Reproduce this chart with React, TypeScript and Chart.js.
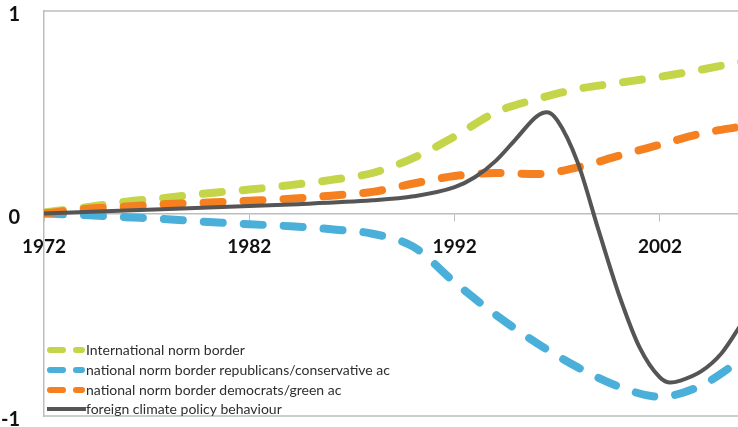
import React, { useEffect, useRef } from "react";
import { Chart, registerables } from "chart.js";

Chart.register(...registerables);

const years = [1972, 1974, 1976, 1978, 1980, 1982, 1984, 1986, 1988, 1990, 1992, 1994, 1996, 1998, 2000, 2002, 2004, 2006];
const internationalNorm = [0.005, 0.03, 0.058, 0.078, 0.1, 0.118, 0.14, 0.166, 0.2, 0.275, 0.38, 0.5, 0.565, 0.615, 0.645, 0.675, 0.71, 0.75];
const republicansNorm = [0.0, -0.008, -0.018, -0.028, -0.042, -0.053, -0.063, -0.078, -0.1, -0.165, -0.34, -0.5, -0.64, -0.76, -0.855, -0.905, -0.85, -0.72];
const democratsNorm = [0.0, 0.022, 0.034, 0.047, 0.054, 0.063, 0.073, 0.088, 0.107, 0.148, 0.185, 0.2, 0.195, 0.228, 0.285, 0.34, 0.395, 0.43];
const policyYears = [1972, 1976, 1980, 1984, 1988, 1990, 1992, 1993, 1994, 1995, 1996, 1996.5, 1997, 1998, 1999, 2000, 2001, 2002, 2002.5, 2003, 2004, 2005, 2006];
const policyBehaviour = [0.0, 0.015, 0.03, 0.045, 0.065, 0.085, 0.13, 0.18, 0.26, 0.37, 0.48, 0.5, 0.46, 0.25, -0.08, -0.4, -0.66, -0.81, -0.835, -0.825, -0.78, -0.69, -0.54];
const xTicks = [1972, 1982, 1992, 2002];
const yTicks = [-1, 0, 1];
const seriesLabels = [
  "International norm border",
  "national norm border republicans/conservative ac",
  "national norm border democrats/green ac",
  "foreign climate policy behaviour",
];

const GREEN = "#c5d54a";
const BLUE = "#4aafd9";
const ORANGE = "#f4801f";
const GRAY = "#555555";
const FRAME = "#bdbdbd";

const toPoints = (xs: number[], ys: number[]) => xs.map((x, i) => ({ x, y: ys[i] }));

const framePlugin = {
  id: "frame",
  afterDraw(chart: any) {
    const { ctx, chartArea } = chart;
    ctx.save();
    ctx.strokeStyle = FRAME;
    ctx.lineWidth = 1.5;
    ctx.beginPath();
    ctx.moveTo(chartArea.left, chartArea.top);
    ctx.lineTo(chartArea.right, chartArea.top);
    ctx.moveTo(chartArea.left, chartArea.bottom);
    ctx.lineTo(chartArea.right, chartArea.bottom);
    ctx.stroke();
    ctx.restore();
  },
};

const legendPlugin = {
  id: "insideLegend",
  afterDraw(chart: any) {
    const { ctx, chartArea } = chart;
    const x0 = chartArea.left;
    const rowY = [350, 370, 390, 409];
    ctx.save();
    chart.data.datasets.forEach((ds: any, i: number) => {
      const y = rowY[i];
      ctx.strokeStyle = ds.borderColor;
      ctx.lineCap = "round";
      ctx.setLineDash([]);
      if (ds.borderDash && ds.borderDash.length) {
        ctx.lineWidth = 6;
        ctx.beginPath();
        ctx.moveTo(x0 + 6, y);
        ctx.lineTo(x0 + 19, y);
        ctx.moveTo(x0 + 32, y);
        ctx.lineTo(x0 + 38, y);
        ctx.stroke();
      } else {
        ctx.lineWidth = 4;
        ctx.lineCap = "butt";
        ctx.beginPath();
        ctx.moveTo(x0 + 3, y);
        ctx.lineTo(x0 + 42, y);
        ctx.stroke();
      }
      ctx.fillStyle = "#2e2e2e";
      ctx.font = "14px Lato";
      ctx.textBaseline = "middle";
      ctx.textAlign = "left";
      ctx.fillText(ds.label, x0 + 42, y);
    });
    ctx.restore();
  },
};

export default function App() {
  const ref = useRef<HTMLCanvasElement | null>(null);

  useEffect(() => {
    if (!ref.current) return;
    const dashed = (label: string, color: string, ys: number[], order: number) => ({
      label,
      data: toPoints(years, ys),
      borderColor: color,
      backgroundColor: color,
      borderWidth: 8,
      borderDash: [19, 21],
      borderCapStyle: "round" as const,
      pointRadius: 0,
      fill: false,
      cubicInterpolationMode: "monotone" as const,
      order,
    });
    const chart = new Chart(ref.current, {
      type: "line",
      data: {
        datasets: [
          dashed(seriesLabels[0], GREEN, internationalNorm, 3),
          dashed(seriesLabels[1], BLUE, republicansNorm, 2),
          dashed(seriesLabels[2], ORANGE, democratsNorm, 1),
          {
            label: seriesLabels[3],
            data: toPoints(policyYears, policyBehaviour),
            borderColor: GRAY,
            backgroundColor: GRAY,
            borderWidth: 4,
            pointRadius: 0,
            fill: false,
            cubicInterpolationMode: "monotone" as const,
            order: 0,
          },
        ],
      },
      options: {
        animation: false,
        responsive: false,
        maintainAspectRatio: false,
        layout: { padding: { top: 11, bottom: 11, left: 0, right: 0 } },
        plugins: { legend: { display: false }, tooltip: { enabled: false } },
        scales: {
          x: {
            type: "linear",
            position: { y: 0 } as any,
            min: 1972,
            max: 2005.8,
            afterBuildTicks: (scale: any) => {
              scale.ticks = xTicks.map((v) => ({ value: v }));
            },
            afterFit: (scale: any) => {
              scale.paddingLeft = 0;
              scale.paddingRight = 0;
            },
            ticks: {
              includeBounds: false,
              autoSkip: false,
              maxRotation: 0,
              padding: 15,
              color: "#111111",
              font: { family: "Lato", size: 19, weight: "bold" },
              callback: (v: any) => String(v),
            },
            grid: {
              display: true,
              drawOnChartArea: false,
              drawTicks: true,
              tickLength: 7,
              color: FRAME,
              lineWidth: 1,
            },
            border: { display: true, color: FRAME, width: 1.5 },
          },
          y: {
            type: "linear",
            position: "left",
            min: -1,
            max: 1,
            afterBuildTicks: (scale: any) => {
              scale.ticks = yTicks.map((v) => ({ value: v }));
            },
            afterFit: (scale: any) => {
              scale.width = 44;
              scale.paddingTop = 0;
              scale.paddingBottom = 0;
            },
            ticks: {
              padding: 24,
              labelOffset: 4,
              color: "#111111",
              font: { family: "Lato", size: 20, weight: "bold" },
              callback: (v: any) => String(v),
            },
            grid: { display: false, drawTicks: false },
            border: { display: true, color: FRAME, width: 1.5 },
          },
        },
      },
      plugins: [framePlugin, legendPlugin],
    });
    return () => chart.destroy();
  }, []);

  return (
    <div style={{ position: "fixed", left: 0, top: 0, width: 738, height: 427, background: "#ffffff" }}>
      <canvas ref={ref} width={738} height={427} style={{ display: "block" }} />
    </div>
  );
}
